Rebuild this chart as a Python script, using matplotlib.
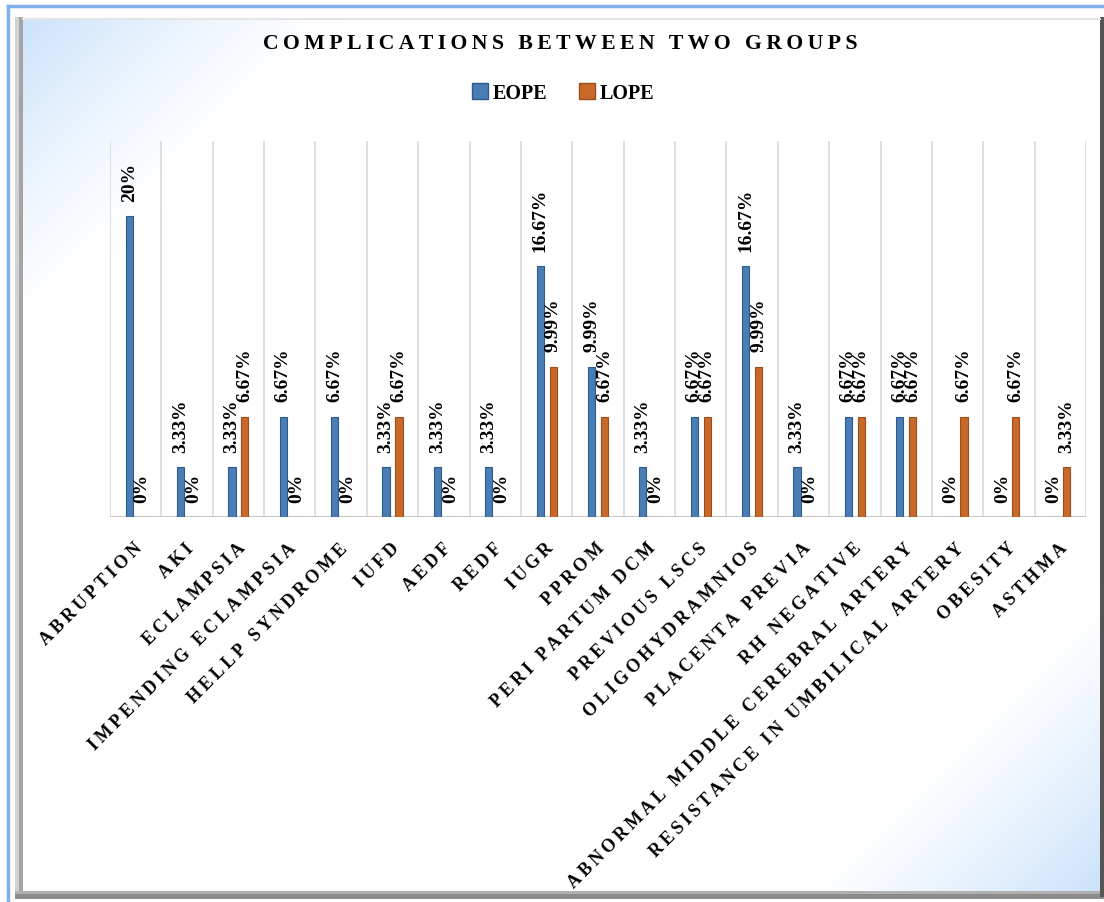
import numpy as np
import matplotlib
matplotlib.use('Agg')
import matplotlib.pyplot as plt
from matplotlib.patches import Rectangle, Patch

# dados do grafico
categorias = ['ABRUPTION', 'AKI', 'ECLAMPSIA', 'IMPENDING ECLAMPSIA', 'HELLP SYNDROME',
              'IUFD', 'AEDF', 'REDF', 'IUGR', 'PPROM', 'PERI PARTUM DCM', 'PREVIOUS LSCS',
              'OLIGOHYDRAMNIOS', 'PLACENTA PREVIA', 'RH NEGATIVE',
              'ABNORMAL MIDDLE CEREBRAL ARTERY', 'RESISTANCE IN UMBILICAL ARTERY',
              'OBESITY', 'ASTHMA']
eope = [20, 3.33, 3.33, 6.67, 6.67, 3.33, 3.33, 3.33, 16.67, 9.99, 3.33, 6.67,
        16.67, 3.33, 6.67, 6.67, 0, 0, 0]
lope = [0, 0, 6.67, 0, 0, 6.67, 0, 0, 9.99, 6.67, 0, 6.67,
        9.99, 0, 6.67, 6.67, 6.67, 6.67, 3.33]
series_nomes = ['EOPE', 'LOPE']
titulo = 'COMPLICATIONS BETWEEN TWO GROUPS'

cor_eope = '#4a7cb5'
cor_lope = '#c8692a'
fonte = ['Liberation Serif', 'DejaVu Serif']
esp = '\u2009'  # espacamento entre letras


def espacar(texto):
    return (esp + ' ' + esp).join(esp.join(p) for p in texto.split(' '))


def rotulo(v):
    return f'{v:g}%'


W, H = 1104, 903
fig = plt.figure(figsize=(W / 100, H / 100), dpi=100)

# fundo com moldura e degrade
bg = fig.add_axes([0, 0, 1, 1], zorder=-10)
bg.set_xlim(0, W)
bg.set_ylim(H, 0)
bg.axis('off')
xx, yy = np.meshgrid(np.linspace(23, 1100, 400), np.linspace(20, 892, 330))
w1 = np.clip(1 - ((xx - 23) + (yy - 20)) / 320, 0, 1) ** 1.3
w2 = np.clip(1 - ((1100 - xx) + (892 - yy)) / 300, 0, 1) ** 1.2
w = np.maximum(w1, w2)[..., None]
azul = np.array([0.80, 0.89, 0.985])
img = (1 - w) * np.ones(3) + w * azul
bg.imshow(img, extent=(23, 1100, 892, 20), aspect='auto', interpolation='bilinear')
bg.plot([8, 8], [7, H], color='#7fb0e8', lw=2.5)
bg.plot([8, W], [7, 7], color='#7fb0e8', lw=2.5)
bg.add_patch(Rectangle((15, 18), 4, 876, color='#d2d2d2', lw=0))
bg.add_patch(Rectangle((19, 18), 4, 876, color='#a4a4a4', lw=0))
bg.add_patch(Rectangle((15, 892), 1089, 4, color='#b0b0b0', lw=0))
bg.add_patch(Rectangle((15, 895), 1089, 5, color='#8c8c8c', lw=0))
bg.add_patch(Rectangle((1100, 18), 4, 880, color='#555555', lw=0))
bg.plot([23, 1100], [19.5, 19.5], color='#e4e4e4', lw=1.5)

# area do grafico
ax = fig.add_axes([110 / W, 1 - 518 / H, 976 / W, 376 / H])
ax.patch.set_alpha(0)
x = np.arange(len(categorias))
ax.set_xlim(-0.5, len(categorias) - 0.5)
ax.set_ylim(0, 25)
ax.vlines(np.arange(len(categorias) + 1) - 0.5, 0, 25, color='#d9d9d9', lw=1.2, zorder=1)
ax.axhline(0, color='#c8c8c8', lw=1.5, zorder=2)

larg = 0.14
ax.bar(x - 0.126, eope, width=larg, color=cor_eope, edgecolor='#2f5b8c', lw=0.8, zorder=3)
ax.bar(x + 0.126, lope, width=larg, color=cor_lope, edgecolor='#9c4d1b', lw=0.8, zorder=3)

for i, v in enumerate(eope):
    ax.annotate(rotulo(v), (x[i] - 0.126, v), xytext=(0, 11), textcoords='offset points',
                rotation=90, ha='center', va='bottom', fontsize=14, fontweight='bold',
                family=fonte, zorder=4)
for i, v in enumerate(lope):
    ax.annotate(rotulo(v), (x[i] + 0.126, v), xytext=(0, 11), textcoords='offset points',
                rotation=90, ha='center', va='bottom', fontsize=14, fontweight='bold',
                family=fonte, zorder=4)

for i, nome in enumerate(categorias):
    ax.annotate(espacar(nome), (x[i], 0), xytext=(-1.5, -16), textcoords='offset points',
                rotation=45, rotation_mode='anchor', ha='right', va='top',
                fontsize=13, fontweight='bold', family=fonte, annotation_clip=False)

for s in ax.spines.values():
    s.set_visible(False)
ax.set_xticks([])
ax.set_yticks([])

fig.text(560 / W, 1 - 44 / H, espacar(titulo), ha='center', va='center',
         fontsize=15.7, fontweight='bold', family=fonte)

handles = [Patch(facecolor=cor_eope, edgecolor='#2f5b8c'),
           Patch(facecolor=cor_lope, edgecolor='#9c4d1b')]
fig.legend(handles, series_nomes, loc='center', bbox_to_anchor=(563 / W, 1 - 94 / H),
           ncol=2, frameon=False, handlelength=0.8, handleheight=0.8,
           handletextpad=0.2, columnspacing=1.6,
           prop={'family': fonte, 'weight': 'bold', 'size': 14.5})

fig.savefig('out.png', dpi=100)
